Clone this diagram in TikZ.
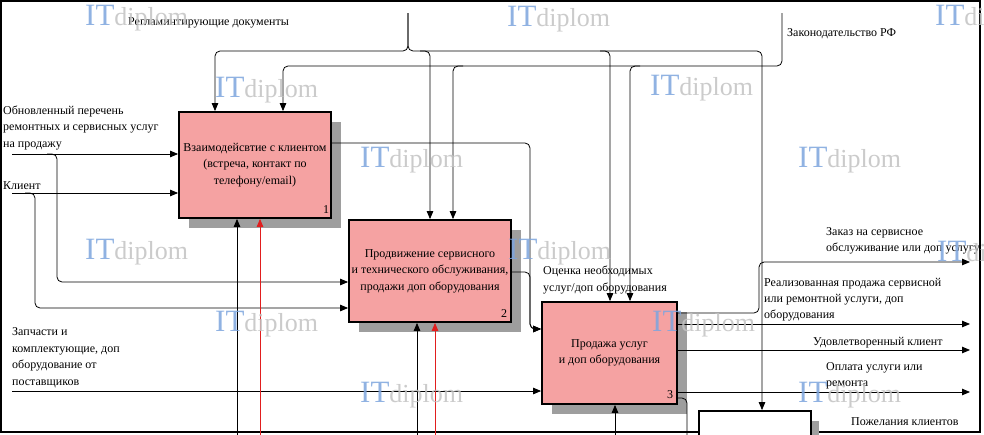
\documentclass[tikz,border=0pt]{standalone}
\usepackage{fontspec}
\setmainfont{Liberation Serif}
\usetikzlibrary{arrows.meta}
\definecolor{boxpink}{RGB}{245,162,162}
\definecolor{wmblue}{RGB}{125,165,222}
\definecolor{wmgray}{RGB}{195,195,195}
\definecolor{mechred}{RGB}{225,30,30}
\begin{document}
\begin{tikzpicture}[x=1pt,y=-1pt,
  font=\fontsize{12}{16.5}\selectfont,
  conn/.style={line width=0.8pt, rounded corners=5pt},
  arr/.style={conn, -{Triangle[length=8pt,width=6.5pt]}},
  proc/.style={draw, line width=1.8pt, fill=boxpink, inner sep=2pt, align=center},
  shade/.style={fill=black!38},
  lbl/.style={anchor=base west, inner sep=0pt, align=left},
  num/.style={inner sep=0pt},
  wm/.style={anchor=base west, inner sep=0pt, opacity=0.85}]
\useasboundingbox (0,0) rectangle (984,434);
\clip (0,0) rectangle (984,434);
\fill[white] (0,0) rectangle (984,434);

% frame
\draw[line width=1.2pt] (1,1) rectangle (980,432);

% shadows
\fill[shade] (189,122) rectangle (341,228);
\fill[shade] (359,230) rectangle (521,332);
\fill[shade] (552,312) rectangle (687,414);
\fill[shade] (811,421) rectangle (819,440);

% boxes
\node[proc, minimum width=152pt, minimum height=106pt] (b1) at (255,165)
  {Взаимодейсвтие с клиентом\\(встреча, контакт по\\телефону/email)};
\node[proc, minimum width=162pt, minimum height=102pt] (b2) at (430,271)
  {Продвижение сервисного\\и технического обслуживания,\\продажи доп оборудования};
\node[proc, minimum width=135pt, minimum height=102pt] (b3) at (609.5,353)
  {Продажа услуг\\и доп оборудования};
\node[draw, line width=1.8pt, fill=white, minimum width=112pt, minimum height=60pt] (b4) at (755,441) {};

\node[num] (n1) at (326,210) {1};
\node[num] (n2) at (504,314) {2};
\node[num] (n3) at (670,395) {3};

% output ends
\coordinate (o1) at (970,262);
\coordinate (o2) at (970,324);
\coordinate (o3) at (970,350);
\coordinate (o4) at (970,392);
\coordinate (t1) at (408,13);
\coordinate (t2) at (782,13);

% controls
\draw[arr] (t1) -- (408,51) -- (215,51) -- (215,0 |- b1.north);
\draw[arr] (t1) -- (408,51) -- (762,51) -- (762,0 |- b4.north);
\draw[arr] (420,51) -- (430,51) -- (430,0 |- b2.north);
\draw[arr] (600,51) -- (610,51) -- (610,0 |- b3.north);
\draw[arr] (t2) -- (782,66) -- (283,66) -- (283,0 |- b1.north);
\draw[arr] (463,66) -- (453,66) -- (453,0 |- b2.north);
\draw[arr] (640,66) -- (630,66) -- (630,0 |- b3.north);

% inputs
\draw[arr] (12,154) -- (b1.west |- 0,154);
\draw[arr] (47,154) -- (57,154) -- (57,282) -- (b2.west |- 0,282);
\draw[arr] (12,193) -- (b1.west |- 0,193);
\draw[arr] (25,193) -- (35,193) -- (35,308) -- (b2.west |- 0,308);
\draw[arr] (12,391) -- (b3.west |- 0,391);

% internal outputs
\draw[arr] (b1.east |- 0,143) -- (530,143) -- (530,329) -- (b3.west |- 0,329);
\draw[arr] (b2.east |- 0,272) -- (530,272) -- (530,329) -- (b3.west |- 0,329);

% box 3 outputs
\draw[arr] (b3.east |- 0,313) -- (759,313) -- (759,262) -- (o1);
\draw[arr] (b3.east |- 0,324) -- (o2);
\draw[arr] (b3.east |- 0,350) -- (o3);
\draw[arr] (b3.east |- 0,392) -- (o4);
\draw[conn] (b3.east |- 0,398) -- (687,398) -- (687,445);

% mechanisms
\draw[arr] (237,445) -- (237,0 |- b1.south);
\draw[arr, mechred] (260,445) -- (260,0 |- b1.south);
\draw[arr] (417,445) -- (417,0 |- b2.south);
\draw[arr, mechred] (435,445) -- (435,0 |- b2.south);
\draw[arr] (615,445) -- (615,0 |- b3.south);

% labels (base = baseline of last line)
\node[lbl] (l1) at (128,25) {Регламинтирующие документы};
\node[lbl] (l2) at (787,36) {Законодательство РФ};
\node[lbl] (l3) at (3,147) {Обновленный перечень\\ремонтных и сервисных услуг\\на продажу};
\node[lbl] (l4) at (3,189) {Клиент};
\node[lbl] (l5) at (12,385) {Запчасти и\\комплектующие, доп\\оборудование от\\поставщиков};
\node[lbl] (l6) at (543,291) {Оценка необходимых\\услуг/доп оборудования};
\node[lbl, font=\fontsize{12}{15.5}\selectfont] (l7) at (826,251) {Заказ на сервисное\\обслуживание или доп услугу};
\node[lbl, font=\fontsize{12}{16}\selectfont] (l8) at (764,318) {Реализованная продажа сервисной\\или ремонтной услуги, доп\\оборудования};
\node[lbl] (l9) at (813,345) {Удовлетворенный клиент};
\node[lbl, font=\fontsize{12}{16}\selectfont] (l10) at (826,386) {Оплата услуги или\\ремонта};
\node[lbl] (l11) at (851,425) {Пожелания клиентов};

% watermarks
\foreach \px/\py [count=\i] in {85/25, 507/26, 935/25, 215/97, 650/95, 360/167, 798/167,
  85/259, 508/259, 937/261, 215/331, 652/331, 360/402, 798/402}
  \node[wm] (w\i) at (\px,\py) {{\fontsize{31}{31}\selectfont\color{wmblue}IT}{\fontsize{26}{26}\selectfont\color{wmgray}diplom}};
\end{tikzpicture}
\end{document}
